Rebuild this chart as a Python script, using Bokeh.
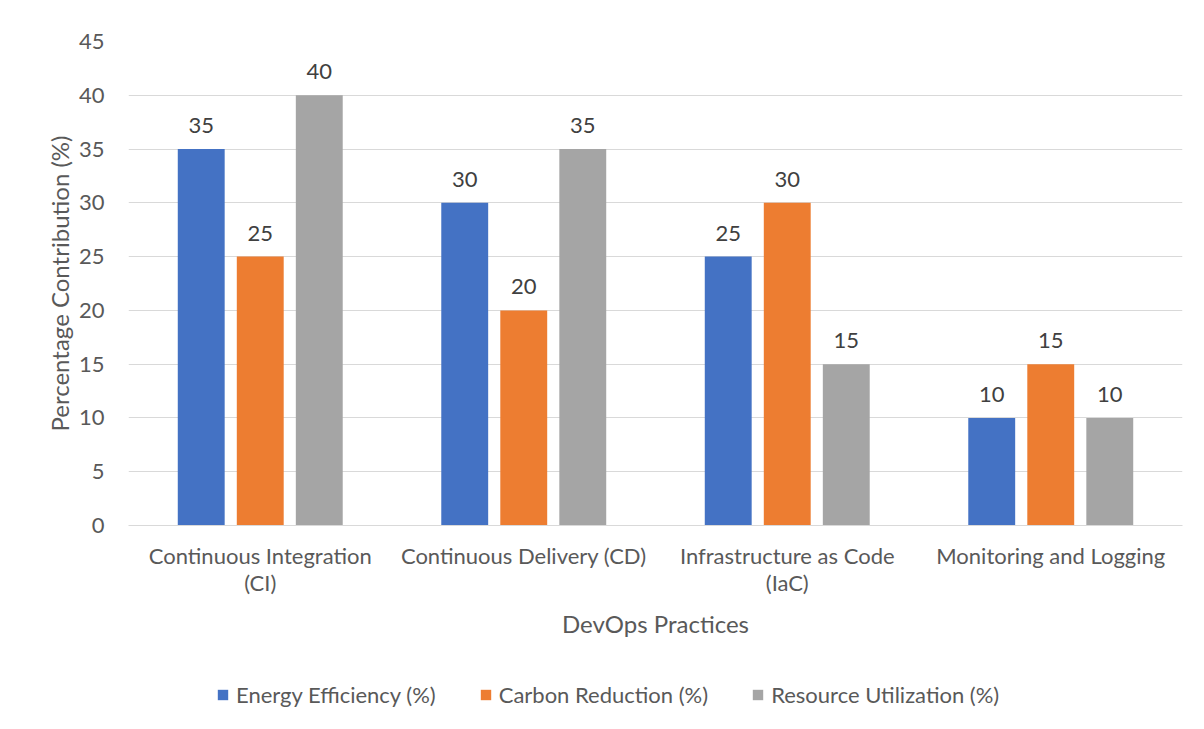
from bokeh.plotting import figure
from bokeh.layouts import column
from bokeh.models import (ColumnDataSource, FactorRange, Range1d, LabelSet, Legend,
                          LegendItem, SingleIntervalTicker)
from bokeh.core.properties import value
from bokeh.transform import dodge
from bokeh.embed import file_html
from bokeh.resources import INLINE

categories = ["Continuous Integration\n(CI)", "Continuous Delivery (CD)",
              "Infrastructure as Code\n(IaC)", "Monitoring and Logging"]
series_names = ["Energy Efficiency (%)", "Carbon Reduction (%)", "Resource Utilization (%)"]
energy = [35, 30, 25, 10]
carbon = [25, 20, 30, 15]
resource = [40, 35, 15, 10]
colors = ["#4472C4", "#ED7D31", "#A5A5A5"]

FONT = "Lato"
TXT = "#595959"

src = ColumnDataSource(dict(cat=categories, e=energy, c=carbon, r=resource,
                            el=[str(v) for v in energy], cl=[str(v) for v in carbon],
                            rl=[str(v) for v in resource]))

p = figure(x_range=FactorRange(*categories, range_padding=0.0),
           y_range=Range1d(0, 45), width=1200, height=660,
           output_backend="svg", toolbar_location=None,
           min_border_left=128, min_border_right=18, min_border_top=41, min_border_bottom=135)
p.outline_line_color = None
p.background_fill_color = "white"

offsets = [-0.224, 0.0, 0.224]
cols = ["e", "c", "r"]
lcols = ["el", "cl", "rl"]
for off, col, lcol, color in zip(offsets, cols, lcols, colors):
    p.vbar(x=dodge("cat", off, range=p.x_range), top=col, width=0.178, source=src,
           fill_color=color, line_color=None)
    labels = LabelSet(x=dodge("cat", off, range=p.x_range), y=col, text=lcol, source=src,
                      text_align="center", text_baseline="bottom", y_offset=16,
                      text_font=value(FONT), text_font_size="22px", text_color="#404040")
    p.add_layout(labels)

p.xgrid.grid_line_color = None
p.ygrid.grid_line_color = "#d9d9d9"
p.ygrid.grid_line_width = 1
p.yaxis.ticker = SingleIntervalTicker(interval=5)

p.yaxis.axis_line_color = None
p.yaxis.major_tick_line_color = None
p.yaxis.minor_tick_line_color = None
p.yaxis.major_label_text_font = FONT
p.yaxis.major_label_text_font_size = "22px"
p.yaxis.major_label_text_color = TXT
p.yaxis.major_label_standoff = 18
p.yaxis.axis_label = "Percentage Contribution (%)"
p.yaxis.axis_label_text_font = FONT
p.yaxis.axis_label_text_font_size = "24px"
p.yaxis.axis_label_text_font_style = "normal"
p.yaxis.axis_label_text_color = TXT
p.yaxis.axis_label_standoff = 2

p.xaxis.axis_line_color = "#d9d9d9"
p.xaxis.axis_line_width = 1
p.xaxis.major_tick_line_color = None
p.xaxis.minor_tick_line_color = None
p.xaxis.major_label_text_font = FONT
p.xaxis.major_label_text_font_size = "22px"
p.xaxis.major_label_text_line_height = 1.0
p.xaxis.major_label_text_color = TXT
p.xaxis.major_label_standoff = 10
p.xaxis.axis_label = "DevOps Practices"
p.xaxis.axis_label_text_font = FONT
p.xaxis.axis_label_text_font_size = "24px"
p.xaxis.axis_label_text_font_style = "normal"
p.xaxis.axis_label_text_color = TXT
p.xaxis.axis_label_standoff = 10

# legend strip below the chart (proxy renderers kept out of view)
p2 = figure(x_range=FactorRange(*categories), y_range=Range1d(1000, 1001),
            width=1200, height=69, output_backend="svg", toolbar_location=None,
            x_axis_location=None, y_axis_location=None,
            min_border_left=0, min_border_right=0, min_border_top=0, min_border_bottom=0)
p2.outline_line_color = None
p2.xgrid.grid_line_color = None
p2.ygrid.grid_line_color = None
items = []
for off, col, color, name in zip(offsets, cols, colors, series_names):
    r = p2.vbar(x=dodge("cat", off, range=p2.x_range), top=col, width=0.178, source=src,
                fill_color=color, line_color=None)
    items.append(LegendItem(label=name, renderers=[r]))

legend = Legend(items=items, orientation="horizontal", location=(88, 21),
                border_line_color=None, background_fill_alpha=0,
                label_text_font=FONT, label_text_font_size="22px", label_text_color=TXT,
                glyph_width=13, glyph_height=13, label_standoff=7, spacing=43,
                margin=0, padding=0)
p2.add_layout(legend)

layout = column(p, p2, spacing=0)
open("out.html", "w").write(file_html(layout, INLINE))
